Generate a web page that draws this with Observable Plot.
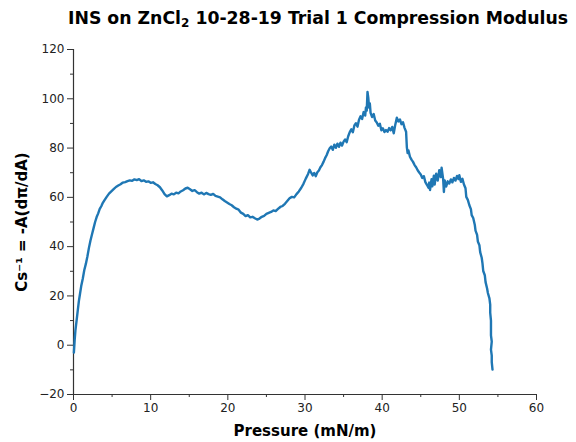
<!DOCTYPE html>
<html>
<head>
<meta charset="utf-8">
<script src="https://cdn.jsdelivr.net/npm/d3@7"></script>
<script src="https://cdn.jsdelivr.net/npm/@observablehq/plot@0.6"></script>
<style>
  html, body { margin: 0; padding: 0; background: white; }
  #wrap { position: relative; width: 576px; height: 442px; overflow: hidden; }
  #title { position: absolute; left: -182px; width: 1000px; top: 8px; text-align: center;
           white-space: nowrap; font-family: "DejaVu Sans"; font-weight: bold; font-size: 17.3px;
           line-height: 20px; color: #000; }
  #title sub { font-size: 12px; vertical-align: -3px; line-height: 0; }
  #chart { position: absolute; left: 0; top: 30px; }
</style>
</head>
<body>
<div id="wrap">
  <div id="title">INS on ZnCl<sub>2</sub> 10-28-19 Trial 1 Compression Modulus</div>
  <div id="chart"></div>
</div>
<script>
const pressure = [
  0.05, 0.15, 0.25, 0.4, 0.55, 0.7, 0.85, 1.0, 1.2, 1.4, 1.6, 1.8, 2.0, 2.2, 2.4, 2.6, 2.8, 3.0, 3.2, 3.4,
  3.6, 3.8, 4.0, 4.3, 4.6, 4.9, 5.2, 5.5, 5.8, 6.1, 6.4, 6.7, 7.0, 7.3, 7.6, 7.9, 8.2, 8.5, 8.8, 9.1,
  9.4, 9.7, 10.0, 10.3, 10.6, 10.9, 11.2, 11.5, 11.8, 12.1, 12.4, 12.7, 13.0, 13.3, 13.6, 13.9, 14.2, 14.5, 14.8, 15.1,
  15.4, 15.7, 16.0, 16.3, 16.6, 16.9, 17.2, 17.5, 17.8, 18.1, 18.4, 18.7, 19.0, 19.3, 19.6, 19.9, 20.2, 20.5, 20.8, 21.1,
  21.4, 21.7, 22.0, 22.3, 22.6, 22.9, 23.2, 23.5, 23.8, 24.1, 24.4, 24.7, 25.0, 25.3, 25.6, 25.9, 26.2, 26.5, 26.8, 27.1,
  27.4, 27.7, 28.0, 28.3, 28.6, 28.9, 29.2, 29.5, 29.8, 30.1, 30.4, 30.6, 30.8, 31.0, 31.2, 31.4, 31.6, 31.8, 32.0, 32.2,
  32.4, 32.6, 32.8, 33.0, 33.2, 33.4, 33.6, 33.8, 34.0, 34.2, 34.4, 34.6, 34.8, 35.0, 35.2, 35.4, 35.6, 35.8, 36.0, 36.2,
  36.4, 36.6, 36.8, 37.0, 37.2, 37.4, 37.6, 37.8, 37.9, 38.0, 38.1, 38.2, 38.3, 38.4, 38.5, 38.7, 38.9, 39.1, 39.3, 39.5,
  39.7, 39.9, 40.1, 40.3, 40.5, 40.7, 40.9, 41.1, 41.3, 41.5, 41.7, 41.9, 42.1, 42.3, 42.5, 42.7, 42.9, 43.1, 43.2, 43.3,
  43.4, 43.6, 43.8, 44.0, 44.2, 44.4, 44.6, 44.8, 45.0, 45.2, 45.4, 45.6, 45.8, 46.0, 46.1, 46.2, 46.4, 46.5, 46.7, 46.8,
  47.0, 47.2, 47.4, 47.6, 47.7, 47.9, 48.0, 48.1, 48.3, 48.5, 48.7, 48.9, 49.1, 49.3, 49.5, 49.7, 49.9, 50.0, 50.2, 50.4,
  50.6, 50.8, 50.9, 51.1, 51.3, 51.5, 51.6, 51.8, 52.0, 52.1, 52.3, 52.4, 52.6, 52.7, 52.9, 53.0, 53.1, 53.3, 53.4, 53.6,
  53.7, 53.9, 54.0, 54.0, 54.1, 54.1, 54.1, 54.2, 54.1, 54.2, 54.2, 54.3
];
const modulus = [
  -3.0, 2.0, 6.0, 10.0, 14.0, 18.0, 21.0, 24.0, 27.0, 30.5, 33.0, 36.0, 39.5, 42.5, 45.0, 47.5, 50.0, 52.0, 53.5, 55.3,
  56.4, 57.8, 58.8, 60.2, 61.5, 62.4, 63.3, 64.2, 64.8, 65.3, 66.0, 66.2, 66.6, 66.9, 66.7, 67.3, 67.0, 67.4, 66.6, 66.9,
  66.3, 66.5, 65.9, 66.1, 65.4, 64.9, 64.1, 62.8, 61.3, 60.4, 60.9, 61.5, 61.2, 61.9, 61.6, 62.4, 62.9, 63.6, 63.9, 63.3,
  62.6, 62.9, 62.1, 61.5, 61.9, 61.2, 61.8, 61.3, 61.0, 61.4, 60.6, 60.3, 60.0, 59.2, 58.5, 57.9, 57.3, 56.8, 56.0, 55.4,
  55.0, 53.8, 53.3, 52.4, 52.8, 51.9, 52.1, 51.5, 51.0, 51.4, 52.1, 52.5, 53.3, 53.7, 54.1, 54.7, 54.4, 55.3, 56.1, 56.5,
  57.4, 58.5, 59.6, 60.2, 60.0, 61.3, 62.4, 63.8, 65.5, 67.6, 69.5, 71.2, 70.0, 68.9, 69.9, 68.6, 70.2, 70.9, 72.2, 73.1,
  74.4, 75.9, 77.1, 78.7, 79.9, 80.6, 79.3, 81.4, 80.1, 81.8, 80.5, 82.2, 81.0, 82.6, 83.5, 82.4, 84.8, 86.5, 87.6, 86.4,
  89.2, 90.1, 88.7, 91.5, 92.9, 91.8, 94.6, 93.2, 96.5, 95.2, 102.8, 100.5, 96.4, 98.1, 94.3, 92.6, 93.8, 91.2, 90.4, 89.1,
  89.9, 87.2, 88.0, 86.5, 87.3, 86.6, 88.1, 87.2, 88.6, 86.0, 89.5, 92.3, 90.8, 91.6, 89.7, 90.5, 88.2, 86.6, 80.3, 78.0,
  79.1, 76.5, 75.3, 74.4, 73.1, 72.2, 71.0, 70.1, 69.3, 67.9, 68.6, 66.2, 65.1, 63.9, 66.0, 63.0, 67.4, 64.5, 68.8, 65.2,
  69.6, 66.8, 71.0, 68.2, 72.0, 67.5, 62.2, 66.9, 64.4, 66.5, 65.6, 67.3, 66.1, 67.9, 66.8, 68.7, 67.4, 69.0, 66.3, 67.5,
  65.2, 63.7, 60.2, 59.0, 56.8, 55.2, 52.8, 51.6, 48.9, 46.5, 44.8, 42.1, 40.6, 37.8, 35.5, 33.2, 30.1, 28.4, 25.6, 23.0,
  21.2, 19.0, 16.5, 13.2, 10.0, 7.1, 4.0, 1.5, -1.8, -4.2, -6.9, -9.9
];
const xMajorTicks = [0, 10, 20, 30, 40, 50, 60];
const xMinorTicks = [5, 15, 25, 35, 45, 55];
const yMajorTicks = [-20, 0, 20, 40, 60, 80, 100, 120];
const yMinorTicks = [-10, 10, 30, 50, 70, 90, 110];
const xLabel = "Pressure (mN/m)";
const yLabel = "Cs\u207B\u00B9 = -A(d\u03C0/dA)";

const data = pressure.map((p, i) => ({p, m: modulus[i]}));
const fmt = d3.format("d");
const axisColor = "#333";

const chart = Plot.plot({
  width: 576,
  height: 412,
  marginTop: 19,
  marginBottom: 48,
  marginLeft: 73,
  marginRight: 40,
  style: {fontFamily: "DejaVu Sans", fontSize: "12px", color: "#222", background: "white"},
  x: {domain: [0, 60]},
  y: {domain: [-20, 120]},
  marks: [
    Plot.ruleY([-20], {stroke: axisColor, strokeWidth: 1.2}),
    Plot.ruleX([0], {stroke: axisColor, strokeWidth: 1.2}),
    Plot.axisX({ticks: xMajorTicks, tickSize: 6, tickPadding: 3, tickFormat: fmt, label: null, stroke: axisColor}),
    Plot.axisX({ticks: xMinorTicks, tickSize: 3, tickFormat: () => "", label: null, stroke: axisColor}),
    Plot.axisY({ticks: yMajorTicks, tickSize: 6, tickPadding: 3, tickFormat: fmt, label: null, stroke: axisColor}),
    Plot.axisY({ticks: yMinorTicks, tickSize: 3, tickFormat: () => "", label: null, stroke: axisColor}),
    Plot.text([xLabel], {frameAnchor: "bottom", dy: 37, fontWeight: "bold", fontSize: 15, fill: "#000", lineAnchor: "middle", textAnchor: "middle"}),
    Plot.text([yLabel], {frameAnchor: "left", dx: -51, rotate: -90, fontWeight: "bold", fontSize: 15, fill: "#000", lineAnchor: "middle", textAnchor: "middle"}),
    Plot.line(data, {x: "p", y: "m", stroke: "#1f77b4", strokeWidth: 2.4})
  ]
});
document.getElementById("chart").appendChild(chart);
</script>
</body>
</html>
